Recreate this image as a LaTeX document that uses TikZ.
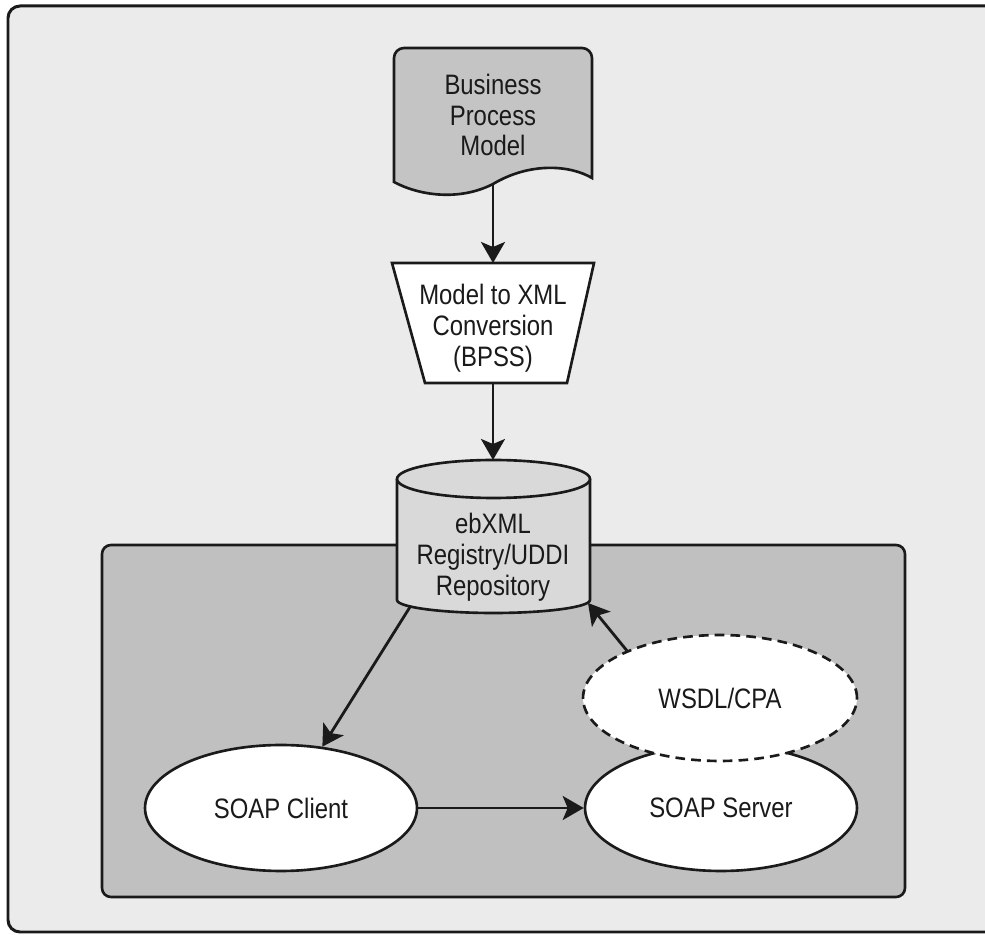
\documentclass[tikz,border=0pt]{standalone}
\usepackage{fontspec}
\setmainfont[FakeStretch=0.85]{Liberation Sans}
\usetikzlibrary{shapes.geometric,arrows.meta}
\definecolor{framebg}{HTML}{EBEBEB}
\definecolor{zonebg}{HTML}{C0C0C0}
\definecolor{docbg}{HTML}{C4C4C4}
\definecolor{dbbg}{HTML}{D9D9D9}
\definecolor{ink}{HTML}{1A1A1A}
\tikzset{
  lbl/.style={align=center, text=ink, font=\fontsize{16}{17.6}\selectfont, inner sep=0pt},
  outline/.style={draw=ink, line width=1.5pt},
  oval/.style={ellipse, outline, fill=white, minimum width=5.44cm, minimum height=2.52cm,
    inner sep=0pt, text=ink, font=\fontsize{16}{17.6}\selectfont},
  flow/.style={draw=ink, line width=1.6pt, -{Stealth[length=0.42cm, width=0.48cm, inset=0.1cm]}},
}
\begin{document}
\begin{tikzpicture}[x=0.02cm, y=-0.02cm]
  \clip (0,0) rectangle (985,935);
  % outer frame
  \draw[line width=1.7pt, draw=ink, fill=framebg, rounded corners=0.24cm] (8,6) rectangle (1010,932);
  % shaded zone
  \draw[outline, fill=zonebg, rounded corners=0.18cm] (102,545) rectangle (905,897);

  % business process model (document shape)
  \draw[outline, fill=docbg] (394,182) [rounded corners=0.2cm] -- (394,48) -- (592,48) [sharp corners] -- (592,178)
    .. controls (570,165) and (530,162) .. (493,184)
    .. controls (460,201) and (420,196) .. (394,182) -- cycle;
  \node[lbl] (doc) at (493,115) {Business\\Process\\Model};
  \coordinate (docbot) at (493,184);

  % model to XML conversion (trapezoid)
  \draw[outline, fill=white] (392,263) -- (594,263) -- (567,383) -- (425,383) -- cycle;
  \node[lbl] (conv) at (493,328) {Model to XML\\Conversion\\(BPSS)};
  \coordinate (convtop) at (493,263);
  \coordinate (convbot) at (493,383);

  % registry / repository (cylinder)
  \fill[dbbg] (397,479) -- (397,600)
    .. controls (397,607) and (440,613) .. (493.5,613)
    .. controls (547,613) and (590,607) .. (590,600) -- (590,479) -- cycle;
  \draw[outline] (397,479) -- (397,600)
    .. controls (397,607) and (440,613) .. (493.5,613)
    .. controls (547,613) and (590,607) .. (590,600) -- (590,479);
  \draw[outline, fill=dbbg] (493.5,479) ellipse [x radius=1.93cm, y radius=0.38cm];
  \node[lbl] (repo) at (493,557) {ebXML\\Registry/UDDI\\Repository};
  \coordinate (repotop) at (493,460);
  \coordinate (repobl) at (410,607);
  \coordinate (repobr) at (588,603);

  % endpoints
  \node[oval] (client) at (281,808) {SOAP Client};
  \node[oval] (server) at (721,808) {SOAP Server};
  \node[oval, minimum width=5.48cm, dash pattern=on 5.5pt off 3.5pt] (wsdl) at (720,698) {WSDL/CPA};

  % connectors
  \draw[flow] (docbot) -- (convtop);
  \draw[flow] (convbot) -- (repotop);
  \draw[flow] (repobl) -- (client.56);
  \draw[flow] (wsdl.153) -- (repobr);
  \draw[flow] (client.east) -- (server.west);
\end{tikzpicture}
\end{document}
